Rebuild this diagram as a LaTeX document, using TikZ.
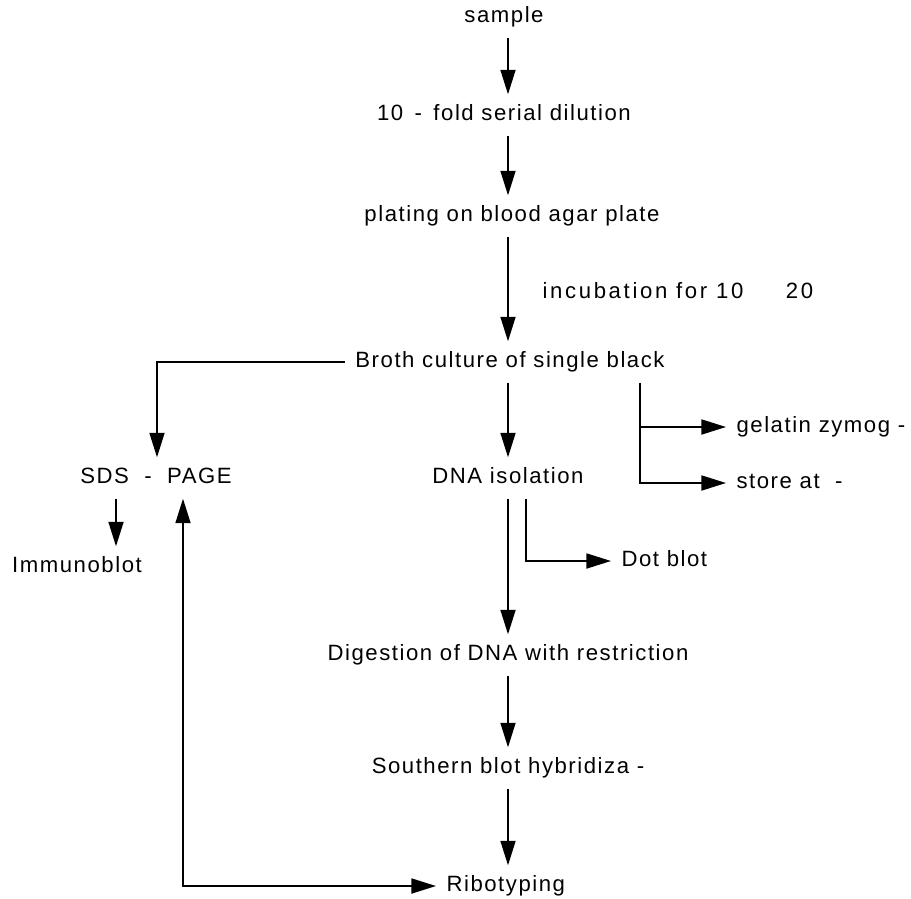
\documentclass[tikz,border=0pt]{standalone}
\usepackage{fontspec}
\setmainfont{Liberation Sans}[LetterSpace=7]
\usetikzlibrary{arrows.meta,positioning}

\begin{document}
\begin{tikzpicture}[x=0.02cm,y=-0.02cm,
        every node/.style={font=\fontsize{12.6}{15}\selectfont, inner sep=1pt, outer sep=5pt,
            text height=9pt, text depth=2.5pt},
        arr/.style={line width=1.15pt, -{Triangle[length=14pt,width=8.5pt]}},
        arrr/.style={line width=1.15pt, {Triangle[length=14pt,width=8.5pt]}-{Triangle[length=14pt,width=8.5pt]}}]
        \useasboundingbox (0,0) rectangle (911,898);

        \coordinate (col) at (508,0);
        \coordinate (lb) at (157,0);
        \coordinate (ub) at (183,0);
        \coordinate (ib) at (116,0);
        \coordinate (rb) at (640,0);
        \coordinate (db) at (526,0);

        \node (sample) at (504,17) {sample};
        \node (dilution) at (504,115) {10\ \,-\ \,fold serial dilution};
        \node (plating) at (512,216) {plating on blood agar plate};
        \node[anchor=west] (incub) at (532,293) {\addfontfeature{LetterSpace=12}incubation for 10\hspace{0.85cm}20};
        \node (broth) at (510,362) {Broth culture of single black};
        \node (sds) at (156,478) {SDS\ \ -\ \ PAGE};
        \node (immuno) at (77,567) {Immunoblot};
        \node (dna) at (508,478) {DNA isolation};
        \node[anchor=west] (gelatin) at (726,427) {gelatin zymog -};
        \node[anchor=west] (store) at (726,483) {store at\ \ -};
        \node[anchor=west] (dotblot) at (611,561) {Dot blot};
        \node (digest) at (508,655) {Digestion of DNA with restriction};
        \node (southern) at (508,768) {Southern blot hybridiza -};
        \node[anchor=west] (ribo) at (436,886) {Ribotyping};

        \draw[arr] (sample.south -| col) -- (dilution.north -| col);
        \draw[arr] (dilution.south -| col) -- (plating.north -| col);
        \draw[arr] (plating.south -| col) -- (broth.north -| col);
        \draw[arr] (broth.south -| col) -- (dna.north -| col);
        \draw[arr] (broth.west) -| (sds.north -| lb);
        \draw[arr] (broth.south -| rb) |- (store.west);
        \draw[arr] (gelatin.west -| rb) -- (gelatin.west);
        \draw[arr] (sds.south -| ib) -- (immuno.north -| ib);
        \draw[arr] (dna.south -| col) -- (digest.north -| col);
        \draw[arr] (dna.south -| db) |- (dotblot.west);
        \draw[arr] (digest.south -| col) -- (southern.north -| col);
        \draw[arr] (southern.south -| col) -- (ribo.north -| col);
        \draw[arrr] (sds.south -| ub) |- (ribo.west);

    \end{tikzpicture}
\end{document}
